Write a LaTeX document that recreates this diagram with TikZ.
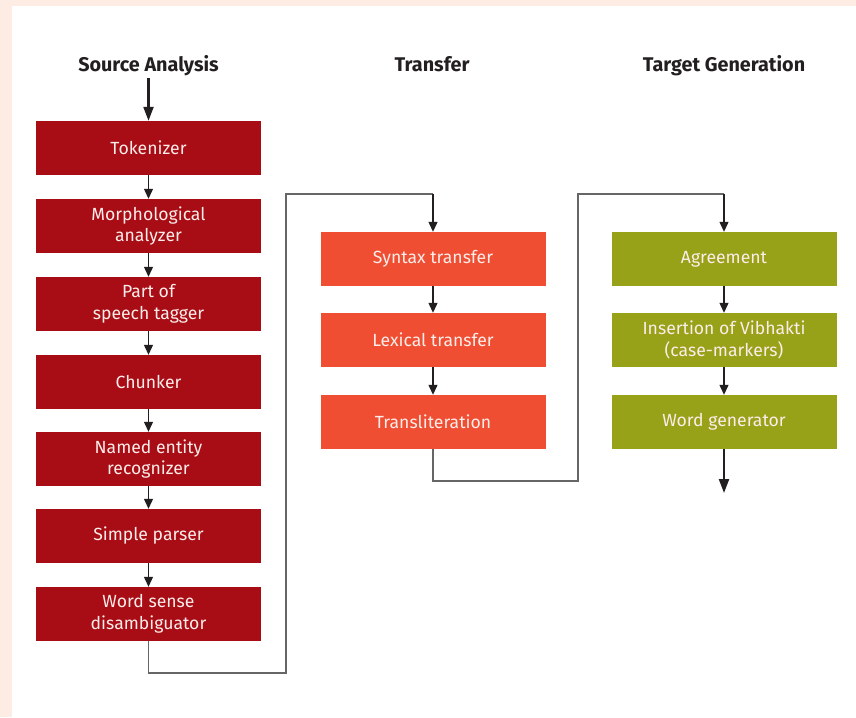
\documentclass[tikz,border=0pt]{standalone}
\usepackage{fontspec}
\setmainfont{Fira Sans}
\usetikzlibrary{arrows.meta}
\definecolor{bgpeach}{HTML}{FCECE3}
\definecolor{cred}{HTML}{A80C15}
\definecolor{corange}{HTML}{F04E32}
\definecolor{colive}{HTML}{98A218}
\definecolor{ctext}{HTML}{FBEDEA}
\definecolor{cline}{HTML}{666666}
\definecolor{carrow}{HTML}{231F20}
\tikzset{
  stagebox/.style={minimum width=225pt, minimum height=54pt, inner sep=0pt,
    align=center, text=ctext, font=\fontsize{17.6}{21.5}\selectfont},
  redbox/.style={stagebox, fill=cred},
  orangebox/.style={stagebox, fill=corange},
  olivebox/.style={stagebox, fill=colive},
  heading/.style={font=\fontsize{19.8}{23}\selectfont\bfseries, text=carrow, inner sep=0pt, anchor=base},
  shortarrow/.style={draw=carrow, line width=1.2pt, -{Triangle[width=9pt,length=10pt]}},
  bigarrow/.style={draw=carrow, line width=2.2pt, -{Triangle[width=10pt,length=14pt]}},
  linkline/.style={draw=cline, line width=1.2pt},
}
\begin{document}
\begin{tikzpicture}[x=1pt,y=-1pt]
\useasboundingbox (0,0) rectangle (856,717);
\fill[bgpeach] (0,0) rectangle (856,717);
\fill[white] (12,6) rectangle (856,717);

% headings
\node[heading] (h1) at (148.5,71.5) {Source Analysis};
\node[heading] (h2) at (432,71.5) {Transfer};
\node[heading] (h3) at (724,71.5) {Target Generation};

% column 1
\node[redbox] (t1) at (148.5,148) {Tokenizer};
\node[redbox] (t2) at (148.5,226) {Morphological\\analyzer};
\node[redbox] (t3) at (148.5,304) {Part of\\speech tagger};
\node[redbox] (t4) at (148.5,382) {Chunker};
\node[redbox] (t5) at (148.5,459) {Named entity\\recognizer};
\node[redbox] (t6) at (148.5,536) {Simple parser};
\node[redbox] (t7) at (148.5,614) {Word sense\\disambiguator};

% column 2
\node[orangebox] (m1) at (433,259) {Syntax transfer};
\node[orangebox] (m2) at (433,340) {Lexical transfer};
\node[orangebox] (m3) at (433,422) {Transliteration};

% column 3
\node[olivebox] (g1) at (724,259) {Agreement};
\node[olivebox] (g2) at (724,340) {Insertion of Vibhakti\\(case-markers)};
\node[olivebox] (g3) at (724,422) {Word generator};

\coordinate (a1) at (148.5,78);
\coordinate (c1) at (148.5,673);
\coordinate (c2) at (286,673);
\coordinate (c3) at (286,194);
\coordinate (c4) at (433,194);
\coordinate (d1) at (433,481);
\coordinate (d2) at (578,481);
\coordinate (d3) at (578,194);
\coordinate (d4) at (724,194);
\coordinate (e1) at (724,493);

\draw[bigarrow] (a1) -- (t1.north);
\foreach \a/\b in {t1/t2,t2/t3,t3/t4,t4/t5,t5/t6,t6/t7,m1/m2,m2/m3,g1/g2,g2/g3}
  \draw[shortarrow] (\a.south) -- (\b.north);

\draw[linkline] (t7.south) -- (c1) -- (c2) -- (c3) -- (c4);
\draw[shortarrow] (c4) -- (m1.north);
\draw[linkline] (m3.south) -- (d1) -- (d2) -- (d3) -- (d4);
\draw[shortarrow] (d4) -- (g1.north);
\draw[bigarrow] (g3.south) -- (e1);
\end{tikzpicture}
\end{document}
